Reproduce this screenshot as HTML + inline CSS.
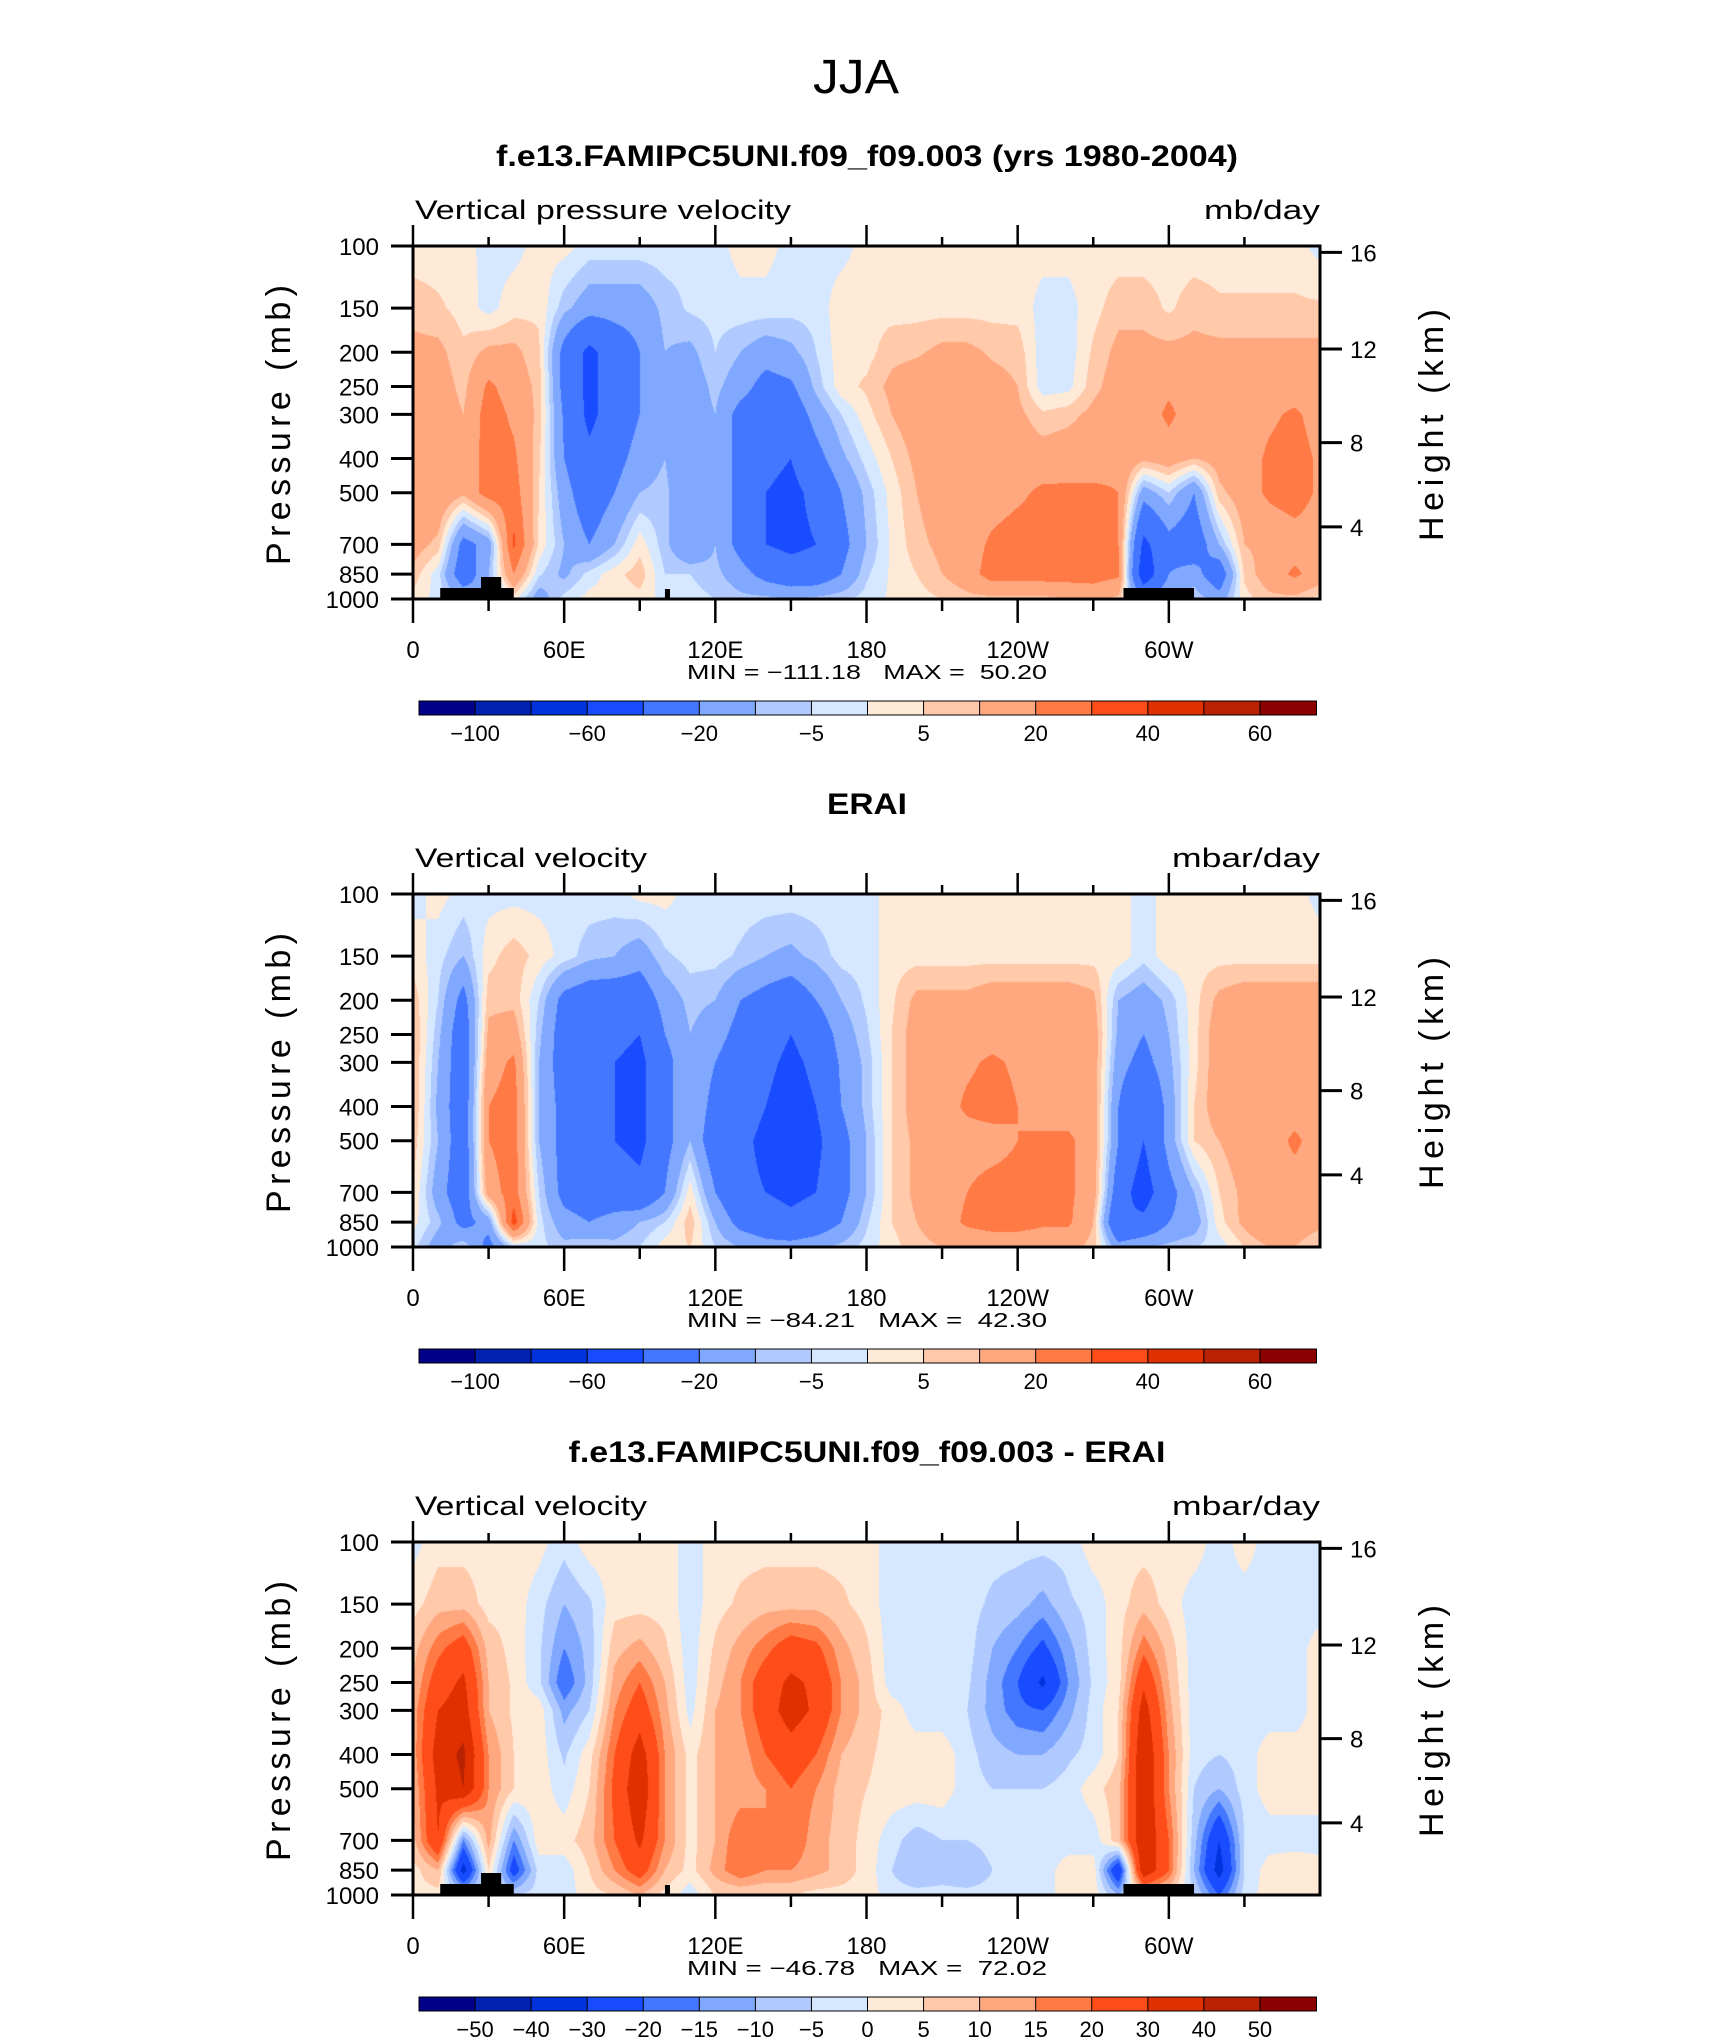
<!DOCTYPE html>
<html><head><meta charset="utf-8">
<style>
html,body{margin:0;padding:0;background:#fff;}
#wrap{position:relative;width:1710px;height:2038px;overflow:hidden;background:#fff;}
canvas{position:absolute;}
svg{position:absolute;left:0;top:0;}
text{font-family:"Liberation Sans",sans-serif;fill:#000;}
</style></head>
<body>
<div id="wrap">
<canvas id="c0" width="907" height="353" style="left:413px;top:246px"></canvas>
<canvas id="c1" width="907" height="353" style="left:413px;top:894px"></canvas>
<canvas id="c2" width="907" height="353" style="left:413px;top:1542px"></canvas>
<svg id="svg" width="1710" height="2038" xmlns="http://www.w3.org/2000/svg">
<text x="856" y="93" font-size="48" text-anchor="middle" textLength="86" lengthAdjust="spacingAndGlyphs">JJA</text>
</svg>
</div>
<script>
const lons=[0,10,20,30,40,50,60,70,80,90,100,110,120,130,140,150,160,170,180,190,200,210,220,230,240,250,260,270,280,290,300,310,320,330,340,350,360];
const levels=[100,150,200,250,300,400,500,700,850,1000];
const bounds12=[-100,-80,-60,-40,-20,-10,-5,0,5,10,20,30,40,50,60];
const bounds3=[-50,-40,-30,-20,-15,-10,-5,0,5,10,15,20,30,40,50];
const cbLabels12=["-100","","-60","","-20","","-5","","5","","20","","40","","60"];
const cbLabels3=["-50","-40","-30","-20","-15","-10","-5","0","5","10","15","20","30","40","50"];
const colors=["#000088","#0022b0","#0033dd","#1a4cff","#4477ff","#80a8ff","#b0caff","#d6e8ff","#ffead8","#ffc9aa","#ffa880","#ff7a45","#ff4d1a","#e03000","#b82200","#8b0000"];
const xTickLabels=["0","60E","120E","180","120W","60W"];
const heightTicks=[4,8,12,16];

const model=[
[2,2,2,-2,-2,2,2,-2,-2,-2,-2,-3,-2,2,2,-2,-2,-2,2,2,2,2,2,2,2,2,2,2,2,2,2,2,2,2,2,2,-2],
[8,6,3,-2,3,4,-8,-15,-15,-15,-8,-4,-3,-2,-2,-3,-3,3,3,3,3,3,3,3,3,-2,-2,3,8,8,4,8,6,6,6,6,6],
[12,12,6,12,12,6,-25,-45,-30,-20,-10,-12,-5,-10,-15,-12,-5,3,3,8,9,12,12,9,8,-3,-3,6,12,12,12,12,12,12,12,12,12],
[13,14,8,22,15,8,-25,-45,-30,-20,-10,-15,-8,-15,-25,-22,-8,3,6,12,15,15,15,13,10,-3,-2,8,14,15,18,15,14,14,14,14,14],
[14,15,10,25,18,8,-22,-45,-30,-20,-12,-15,-10,-25,-30,-30,-15,-5,3,10,15,15,15,14,12,6,8,12,15,15,22,15,15,15,18,22,15],
[16,20,12,25,22,6,-20,-35,-25,-15,-10,-20,-10,-25,-35,-40,-25,-12,-3,5,12,15,15,15,15,14,15,15,18,12,15,10,14,15,22,25,18],
[18,18,12,25,25,5,-15,-30,-20,-10,-8,-20,-10,-25,-40,-45,-35,-20,-8,2,10,15,15,15,18,22,22,22,20,-15,-5,-20,8,15,22,25,18],
[14,8,-25,-15,32,4,-10,-20,-10,3,-8,-20,-10,-25,-40,-45,-40,-25,-10,1,8,12,15,22,25,25,25,25,20,-45,-25,-30,-10,10,12,15,15],
[8,-3,-30,-10,20,-4,-12,-3,3,8,-5,-5,-8,-15,-25,-30,-30,-20,-6,1,5,10,15,25,25,25,25,25,22,-55,-20,-15,-30,6,15,22,15],
[3,-2,-10,-20,2,-15,-3,2,2,3,-2,-3,-5,-8,-8,-10,-8,-6,-3,1,3,5,8,8,8,8,10,12,8,-20,-8,-5,-15,3,8,8,3]];

const erai=[
[-2,2,-2,-2,-2,-2,-2,-2,-2,2,2,-2,-2,-2,-2,-2,-2,-2,-2,2,2,2,2,2,2,2,2,2,2,-2,2,2,2,2,2,2,-2],
[3,-3,-10,3,8,3,-2,-8,-10,-15,-6,-3,-3,-6,-10,-12,-8,-3,-3,3,3,3,3,3,3,3,3,3,3,-3,3,3,3,3,3,3,3],
[8,-5,-25,8,8,-5,-25,-30,-30,-30,-15,-8,-10,-20,-25,-30,-20,-10,-4,4,12,12,12,15,15,15,15,12,-10,-15,-8,3,12,15,15,15,15],
[10,-8,-30,12,15,-8,-28,-35,-35,-40,-20,-10,-15,-25,-30,-40,-30,-15,-6,5,14,15,15,15,15,15,15,15,-12,-20,-10,3,15,15,15,15,15],
[10,-10,-30,15,22,-10,-28,-35,-40,-45,-25,-10,-20,-30,-35,-45,-35,-18,-8,5,14,15,18,22,18,15,15,15,-15,-25,-12,3,15,15,15,15,15],
[10,-12,-30,20,25,-10,-25,-35,-40,-45,-25,-10,-25,-30,-40,-50,-40,-20,-8,5,14,15,22,25,20,15,15,15,-20,-40,-15,5,15,15,15,15,15],
[8,-10,-30,20,25,-10,-25,-35,-40,-45,-25,-10,-30,-35,-45,-60,-45,-25,-10,5,12,15,15,15,20,22,22,15,-20,-40,-15,5,10,15,15,22,15],
[5,-15,-30,15,25,-5,-25,-30,-30,-35,-20,3,-20,-35,-40,-45,-40,-25,-10,5,12,15,20,25,25,22,22,15,-30,-50,-25,-10,5,12,15,15,15],
[2,-8,-25,-15,35,-3,-15,-20,-15,-10,-5,8,-10,-25,-30,-35,-30,-20,-6,5,10,15,22,25,25,22,22,10,-40,-35,-20,-15,3,12,20,15,12],
[-3,-15,-5,-25,-5,-3,-8,-5,-8,-5,3,5,-5,-10,-15,-15,-12,-8,-3,3,8,10,12,12,12,12,12,8,-15,-10,-8,-5,-3,5,10,10,5]];

const diff=[
[-2,3,3,3,3,2,-3,3,3,3,3,-3,3,3,3,3,3,3,3,-3,-3,-3,-3,-3,-3,-3,-3,3,3,3,3,3,-3,3,-3,-3,-3],
[3,8,8,3,3,-3,-10,-6,3,3,3,-3,3,6,8,8,8,6,3,-3,-3,-3,-3,-6,-8,-12,-6,-3,3,8,3,-3,-3,-3,-3,-3,-3],
[8,18,25,8,3,-4,-15,-8,8,12,6,-3,6,12,18,25,22,12,6,-3,-3,-3,-3,-10,-15,-22,-12,-3,3,18,8,-3,-3,-3,-3,-3,3],
[10,25,32,10,4,-4,-20,-8,12,20,10,-3,8,15,25,32,28,15,8,-3,-3,-3,-4,-12,-20,-32,-15,-4,3,28,10,-3,-3,-3,-3,-3,3],
[12,30,35,10,4,3,-12,-5,15,25,12,-2,10,15,25,35,28,15,8,3,-3,-3,-5,-12,-18,-20,-12,-3,5,35,12,-3,-3,-3,-3,-3,3],
[12,35,42,15,5,3,-6,3,20,35,15,3,10,12,20,25,20,10,6,3,3,3,-3,-8,-10,-10,-6,-3,5,40,15,-3,-5,-3,3,3,3],
[10,32,40,15,5,3,-3,5,22,38,15,3,10,12,15,20,15,8,5,3,3,3,-3,-5,-5,-5,-3,3,8,40,15,-5,-10,-3,3,3,3],
[8,30,-15,12,-15,3,3,8,20,32,15,3,10,20,15,20,12,8,3,-3,-8,-5,-5,-3,-3,-3,-3,-3,8,40,20,-8,-30,-5,-3,-3,-3],
[3,10,-35,5,-25,-3,-3,5,15,25,10,3,12,20,15,15,12,8,3,-5,-10,-8,-10,-5,-3,-3,3,3,-30,40,20,-10,-35,-5,3,5,3],
[3,3,-5,-5,-5,-3,-3,3,5,10,3,-3,5,5,5,5,3,3,3,-3,-3,-3,-3,-3,-3,-3,3,3,-10,5,5,-5,-20,-3,3,5,3]];

const PX=413, PW=907, PH=353, TOP0=246, DY=648;
const lonToX = lon => lon/360*PW;
const pToY = p => PH - Math.log10(1000/p)*PH;

function colorIndex(v,b){let i=0;while(i<b.length&&v>=b[i])i++;return i;}
function hex(h){return [parseInt(h.substr(1,2),16),parseInt(h.substr(3,2),16),parseInt(h.substr(5,2),16)];}
const rgb=colors.map(hex);
const logL=levels.map(p=>Math.log(p));

function drawField(id,grid,b){
  const cv=document.getElementById(id),ctx=cv.getContext('2d');
  const img=ctx.createImageData(PW,PH);
  for(let y=0;y<PH;y++){
    const p=1000*Math.pow(10,-(PH-y-0.5)/PH), lp=Math.log(p);
    let j=0;while(j<levels.length-2&&lp>logL[j+1])j++;
    let fy=(lp-logL[j])/(logL[j+1]-logL[j]);fy=Math.max(0,Math.min(1,fy));
    for(let x=0;x<PW;x++){
      const lon=(x+0.5)/PW*360;let i=Math.min(lons.length-2,Math.floor(lon/10));
      const fx=(lon-lons[i])/10;
      const v0=grid[j][i]*(1-fx)+grid[j][i+1]*fx, v1=grid[j+1][i]*(1-fx)+grid[j+1][i+1]*fx;
      const v=v0*(1-fy)+v1*fy;
      const c=rgb[colorIndex(v,b)],k=(y*PW+x)*4;
      img.data[k]=c[0];img.data[k+1]=c[1];img.data[k+2]=c[2];img.data[k+3]=255;
    }
  }
  ctx.putImageData(img,0,0);
}

const svg=document.getElementById('svg');
const NS='http://www.w3.org/2000/svg';
function el(tag,attrs,txt){const e=document.createElementNS(NS,tag);for(const k in attrs)e.setAttribute(k,attrs[k]);if(txt!==undefined)e.textContent=txt;svg.appendChild(e);return e;}

function stdP(zkm){const z=zkm*1000;if(z<=11000)return 1013.25*Math.pow(1-2.25577e-5*z,5.25588);return 226.32*Math.exp(-(z-11000)/6341.6);}

function panel(k,title,titleW,left,leftW,unit,unitW,minmax,grid,b,cbl,terrain){
  const T=TOP0+k*DY, B=T+PH, R=PX+PW;
  let e;
  e=el('text',{x:867,y:T-80,'font-size':30,'font-weight':'bold','text-anchor':'middle',textLength:titleW,lengthAdjust:'spacingAndGlyphs'},title);
  
  
  e=el('text',{x:PX+2,y:T-27,'font-size':27,textLength:leftW,lengthAdjust:'spacingAndGlyphs'},left);
  
  
  e=el('text',{x:R,y:T-27,'font-size':27,'text-anchor':'end',textLength:unitW,lengthAdjust:'spacingAndGlyphs'},unit);
  
  
  terrain.forEach(t=>{
    e=el('rect',{x:PX+lonToX(t[0]),y:B-t[2],width:lonToX(t[1])-lonToX(t[0]),height:t[2],fill:'#000'});
    
    
  });
  e=el('rect',{x:PX,y:T,width:PW,height:PH,fill:'none',stroke:'#000','stroke-width':3});
  
  
  for(let lon=0;lon<=330;lon+=30){
    const x=PX+lonToX(lon),maj=lon%60===0;
    e=el('line',{x1:x,x2:x,y1:T,y2:T-(maj?21:9),stroke:'#000','stroke-width':2.5});
    
    
    e=el('line',{x1:x,x2:x,y1:B,y2:B+(maj?24:12),stroke:'#000','stroke-width':2.5});
    
    
    if(maj){
      e=el('text',{x:x,y:B+59,'font-size':24,'text-anchor':'middle'},xTickLabels[lon/60]);
      
      
    }
  }
  levels.forEach(p=>{
    const y=T+pToY(p);
    e=el('line',{x1:PX-22,x2:PX,y1:y,y2:y,stroke:'#000','stroke-width':3});
    
    
    e=el('text',{x:PX-34,y:y+9,'font-size':24,'text-anchor':'end'},String(p));
    
    
  });
  heightTicks.forEach(h=>{
    const y=T+pToY(stdP(h))+2;
    e=el('line',{x1:R,x2:R+22,y1:y,y2:y,stroke:'#000','stroke-width':3});
    
    
    e=el('text',{x:R+30,y:y+9,'font-size':24},String(h));
    
    
  });
  e=el('text',{x:0,y:0,'font-size':34,'text-anchor':'middle',textLength:280,lengthAdjust:'spacing',transform:`translate(290,${T+179}) rotate(-90)`},'Pressure (mb)');
  
  
  e=el('text',{x:0,y:0,'font-size':34,'text-anchor':'middle',textLength:232,lengthAdjust:'spacing',transform:`translate(1443,${T+179}) rotate(-90)`},'Height (km)');
  
  
  e=el('text',{x:867,y:B+80,'font-size':20,'text-anchor':'middle',style:'white-space:pre',textLength:360,lengthAdjust:'spacingAndGlyphs'},minmax);
  
  
  const cx=419,cw=897,n=colors.length,bw=cw/n,cy=T+455;
  colors.forEach((c,i)=>{
    e=el('rect',{x:cx+i*bw,y:cy,width:bw+0.5,height:14,fill:c,stroke:'#000','stroke-width':1});
    
    
  });
  cbl.forEach((l,i)=>{
    if(!l)return;
    e=el('text',{x:cx+(i+1)*bw,y:cy+40,'font-size':22,'text-anchor':'middle'},l.replace('-','\u2212'));
    
    
  });
  drawField('c'+k,grid,b);
}
const terrainModel=[[10.8,40,11],[27,35,22],[100,102,10],[282,310,11]];
panel(0,'f.e13.FAMIPC5UNI.f09_f09.003 (yrs 1980-2004)',742,'Vertical pressure velocity',376,'mb/day',116,'MIN = \u2212111.18   MAX =  50.20',model,bounds12,cbLabels12,terrainModel);
panel(1,'ERAI',80,'Vertical velocity',232,'mbar/day',148,'MIN = \u221284.21   MAX =  42.30',erai,bounds12,cbLabels12,[]);
panel(2,'f.e13.FAMIPC5UNI.f09_f09.003 - ERAI',597,'Vertical velocity',232,'mbar/day',148,'MIN = \u221246.78   MAX =  72.02',diff,bounds3,cbLabels3,terrainModel);
</script>
</body></html>
